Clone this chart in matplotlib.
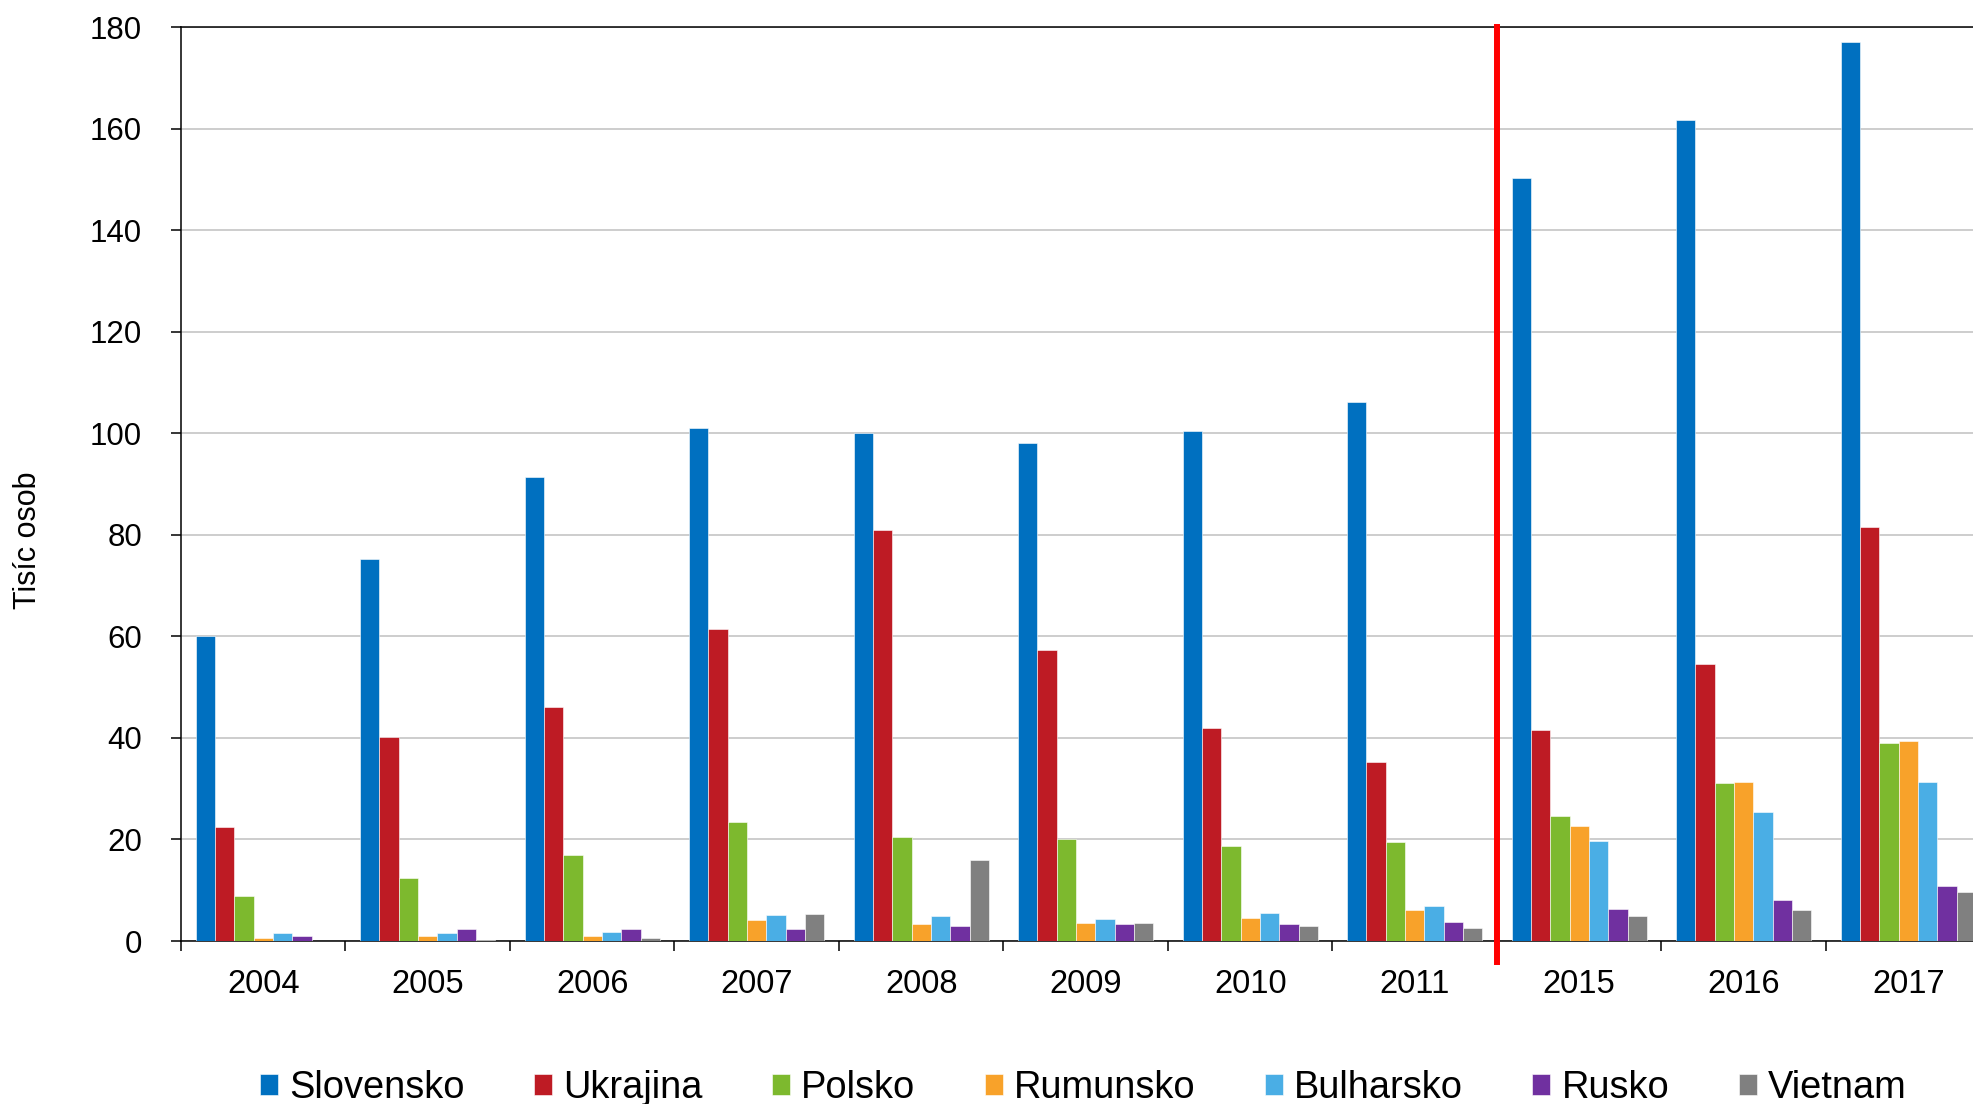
import numpy as np
import matplotlib
matplotlib.use("Agg")
import matplotlib.pyplot as plt

plt.rcParams['font.family'] = ['Liberation Sans', 'DejaVu Sans']

# data (thousands of persons)
years = ['2004', '2005', '2006', '2007', '2008', '2009', '2010', '2011', '2015', '2016', '2017']
countries = ['Slovensko', 'Ukrajina', 'Polsko', 'Rumunsko', 'Bulharsko', 'Rusko', 'Vietnam']
slovensko = [60.0, 75.3, 91.4, 101.0, 100.0, 98.0, 100.5, 106.2, 150.2, 161.6, 177.0]
ukrajina = [22.4, 40.1, 46.0, 61.4, 81.0, 57.4, 42.0, 35.2, 41.6, 54.5, 81.6]
polsko = [8.8, 12.5, 17.0, 23.4, 20.5, 20.1, 18.8, 19.5, 24.7, 31.2, 39.0]
rumunsko = [0.5, 0.9, 1.0, 4.2, 3.4, 3.6, 4.6, 6.2, 22.6, 31.3, 39.4]
bulharsko = [1.5, 1.6, 1.8, 5.2, 4.9, 4.3, 5.5, 6.8, 19.7, 25.5, 31.3]
rusko = [1.0, 2.4, 2.3, 2.4, 3.0, 3.4, 3.4, 3.7, 6.4, 8.0, 10.8]
vietnam = [0.0, 0.2, 0.6, 5.3, 16.0, 3.5, 2.9, 2.5, 4.9, 6.2, 9.6]
series = [slovensko, ukrajina, polsko, rumunsko, bulharsko, rusko, vietnam]

colors = ['#0070C0', '#BE1B24', '#7DB92E', '#F8A22A', '#4AAEE5', '#7030A0', '#808080']

fig = plt.figure(figsize=(19.73, 11.04), dpi=100)
ax = fig.add_axes([0.09174, 0.14764, 0.9171, 0.8279])

x = np.arange(len(years))
bw = 0.1175
n = len(series)
for i, (vals, name, c) in enumerate(zip(series, countries, colors)):
    offs = (i - (n - 1) / 2) * bw
    ax.bar(x + offs, vals, width=bw, color=c, label=name,
           edgecolor='white', linewidth=0.4, zorder=3)

ax.set_xlim(-0.5, len(years) - 0.5)
ax.set_ylim(0, 180)
ax.set_yticks(np.arange(0, 181, 20))
ax.yaxis.grid(True, color='#C0C0C0', linewidth=1.1, zorder=0)
ax.set_axisbelow(True)

ax.set_xticks(x)
ax.set_xticklabels(years)
ax.set_xticks(np.arange(-0.5, len(years), 1), minor=True)
ax.tick_params(axis='x', which='major', length=0, pad=20, labelsize=23.5)
ax.tick_params(axis='x', which='minor', length=7, width=1.1, direction='out')
ax.tick_params(axis='y', length=7, width=1.1, pad=21, labelsize=22.5)

for s in ax.spines.values():
    s.set_color('black')
    s.set_linewidth(1.1)

# break between 2011 and 2015
ax.axvline(7.5, ymin=-0.023, ymax=1, color='#FF0000', linewidth=4.3,
           clip_on=False, zorder=5)

fig.text(28 / 1973, 1 - 540 / 1104, 'Tisíc osob', rotation=90,
         ha='center', va='center', fontsize=22)

fig.legend(loc='center', bbox_to_anchor=(0.549, 0.0145), ncol=7, frameon=False,
           fontsize=27.4, handlelength=0.47, handleheight=0.47,
           handletextpad=0.29, columnspacing=1.83, borderpad=0)

fig.savefig('out.png', dpi=100)
